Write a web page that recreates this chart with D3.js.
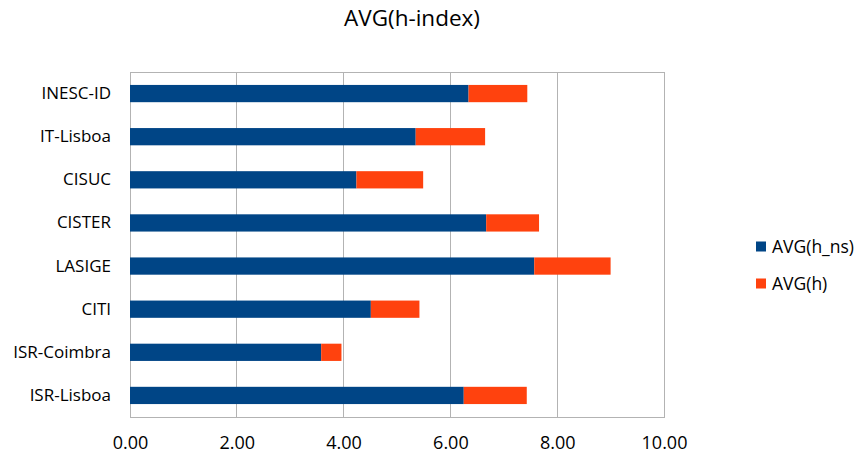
<!DOCTYPE html>
<html><head><meta charset="utf-8">
<script src="https://cdn.jsdelivr.net/npm/d3@7"></script>
<style>body{margin:0;background:#fff;} svg{display:block;font-family:"Open Sans","Noto Sans",sans-serif;}</style>
</head><body>
<svg id="c" width="859" height="457"></svg>
<script>
const categories = ["INESC-ID","IT-Lisboa","CISUC","CISTER","LASIGE","CITI","ISR-Coimbra","ISR-Lisboa"];
const hns = [6.34, 5.35, 4.24, 6.67, 7.57, 4.51, 3.58, 6.25];
const h   = [1.10, 1.30, 1.25, 0.99, 1.43, 0.91, 0.38, 1.18];
const seriesNames = ["AVG(h_ns)","AVG(h)"];
const xTicks = [0,2,4,6,8,10];
const colors = ["#004586","#ff420e"];

const FONT = "'Open Sans','Noto Sans',sans-serif";
const svg = d3.select("#c");
const L=130, R=664, T=72, B=417;
const x = d3.scaleLinear().domain([0,10]).range([L,R]);
const y = d3.scaleBand().domain(categories).range([T,B]).paddingInner(0.6).paddingOuter(0.3);

// title
svg.append("text").attr("x",412).attr("y",26).attr("text-anchor","middle")
  .attr("font-size",22.5).attr("fill","#000").text("AVG(h-index)");

// gridlines
const g = svg.append("g");
g.selectAll("line.grid").data(xTicks).enter().append("line")
  .attr("x1",d=>x(d)).attr("x2",d=>x(d)).attr("y1",T).attr("y2",B)
  .attr("stroke","#b3b3b3").attr("stroke-width",1).attr("shape-rendering","crispEdges");
g.append("rect").attr("x",L).attr("y",T).attr("width",R-L).attr("height",B-T)
  .attr("fill","none").attr("stroke","#b3b3b3").attr("shape-rendering","crispEdges");

// bars
const data = categories.map((c,i)=>({c, a:hns[i], b:h[i]}));
const bars = svg.append("g");
bars.selectAll("rect.a").data(data).enter().append("rect")
  .attr("x",x(0)).attr("y",d=>y(d.c)).attr("height",y.bandwidth())
  .attr("width",d=>x(d.a)-x(0)).attr("fill",colors[0]);
bars.selectAll("rect.b").data(data).enter().append("rect")
  .attr("x",d=>x(d.a)).attr("y",d=>y(d.c)).attr("height",y.bandwidth())
  .attr("width",d=>x(d.a+d.b)-x(d.a)).attr("fill",colors[1]);

// x axis
const xa = svg.append("g").attr("transform",`translate(0,${B})`)
  .call(d3.axisBottom(x).tickValues(xTicks).tickFormat(d3.format(".2f")).tickSize(0));
xa.select(".domain").remove();
xa.selectAll("text").attr("y",32).attr("dy",null).attr("font-size",18).attr("fill","#000").attr("font-family",FONT);

// y axis
const ya = svg.append("g").attr("transform",`translate(${L},0)`)
  .call(d3.axisLeft(y).tickSize(0).tickPadding(19));
ya.select(".domain").remove();
ya.selectAll("text").attr("font-size",17).attr("fill","#000").attr("font-family",FONT);

// legend
const lg = svg.append("g");
seriesNames.forEach((s,i)=>{
  const yy = 246.5 + i*37;
  lg.append("rect").attr("x",756).attr("y",yy-5).attr("width",10).attr("height",10).attr("fill",colors[i]);
  lg.append("text").attr("x",772).attr("y",yy+6).attr("font-size",17.5).attr("fill","#000").text(s);
});
</script>
</body></html>
